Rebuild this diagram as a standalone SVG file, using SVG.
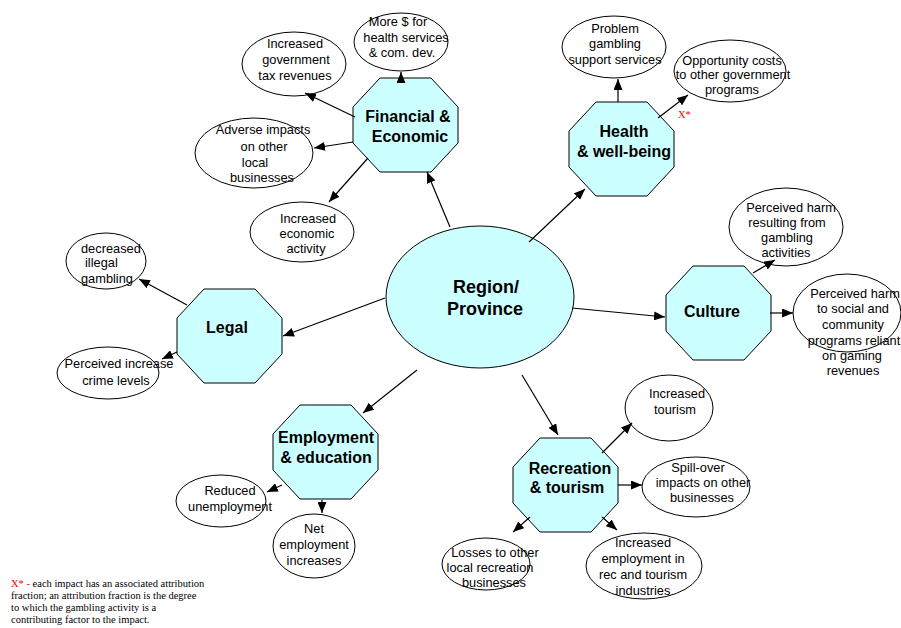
<svg xmlns="http://www.w3.org/2000/svg" width="901" height="628" viewBox="0 0 901 628">
<style>
.bg{fill:#fff}
.oct{fill:#ccffff;stroke:#000;stroke-width:1}
.ell{fill:#fff;stroke:#000;stroke-width:1}
.ctr{fill:#ccffff;stroke:#000;stroke-width:1}
.lbl{font-family:"Liberation Sans",Arial,sans-serif;font-size:16px;font-weight:bold;fill:#000;text-anchor:middle}
.big{font-size:18px}
.t{font-family:"Liberation Sans",Arial,sans-serif;font-size:12.8px;fill:#000;text-anchor:middle}
.ts{text-anchor:start}
.con line{stroke:#000;stroke-width:1.2;marker-end:url(#ah)}
.note{font-family:"Liberation Serif","Times New Roman",serif;font-size:10.5px;fill:#000}
.red{fill:#ff0000}
</style>
<defs>
<marker id="ah" viewBox="0 0 11 9" refX="11" refY="4.5" markerWidth="11" markerHeight="9" markerUnits="userSpaceOnUse" orient="auto">
<path d="M0,0 L11,4.5 L0,9 Z" fill="#000"/>
</marker>
<path id="octo" d="M27,0 H78 L105,29 V65 L78,94 H27 L0,65 V29 Z"/>
</defs>
<rect class="bg" x="0" y="0" width="901" height="628"/>

<g id="region">
<ellipse class="ctr" cx="480" cy="297" rx="94" ry="71"/>
<text class="lbl big" x="486" y="293">Region/</text>
<text class="lbl big" x="485" y="315">Province</text>
</g>

<g id="financial">
<use href="#octo" class="oct" x="353" y="78"/>
<text class="lbl" x="408" y="122">Financial &amp;</text>
<text class="lbl" x="410" y="142">Economic</text>
</g>
<g id="more-money">
<ellipse class="ell" cx="401" cy="42" rx="47" ry="29"/>
<text class="t" x="398" y="26">More $ for</text>
<text class="t" x="406" y="42">health services</text>
<text class="t" x="402" y="57">&amp; com. dev.</text>
</g>
<g id="tax">
<ellipse class="ell" cx="294" cy="64" rx="52" ry="32"/>
<text class="t" x="295" y="48">Increased</text>
<text class="t" x="296" y="64">government</text>
<text class="t" x="295" y="80">tax revenues</text>
</g>
<g id="adverse">
<ellipse class="ell" cx="254" cy="153" rx="59" ry="35"/>
<text class="t" x="263" y="134">Adverse impacts</text>
<text class="t" x="264" y="151">on other</text>
<text class="t" x="255" y="167">local</text>
<text class="t" x="262" y="182">businesses</text>
</g>
<g id="econ-activity">
<ellipse class="ell" cx="302" cy="232" rx="52" ry="30"/>
<text class="t" x="308" y="223">Increased</text>
<text class="t" x="307" y="238">economic</text>
<text class="t" x="306" y="253">activity</text>
</g>

<g id="health">
<use href="#octo" class="oct" x="569" y="102"/>
<text class="lbl" x="624" y="137">Health</text>
<text class="lbl" x="624" y="157">&amp; well-being</text>
</g>
<g id="problem-gambling">
<ellipse class="ell" cx="614" cy="47" rx="52" ry="31"/>
<text class="t" x="615" y="33">Problem</text>
<text class="t" x="615" y="48">gambling</text>
<text class="t" x="615" y="64">support services</text>
</g>
<g id="opportunity">
<ellipse class="ell" cx="730" cy="71" rx="56" ry="31"/>
<text class="t" x="732" y="65">Opportunity costs</text>
<text class="t" x="733" y="79">to other government</text>
<text class="t" x="732" y="94">programs</text>
</g>

<g id="culture">
<use href="#octo" class="oct" x="666" y="266"/>
<text class="lbl" x="712" y="317">Culture</text>
</g>
<g id="harm-gambling">
<ellipse class="ell" cx="786" cy="227" rx="57" ry="39"/>
<text class="t" x="791" y="212">Perceived harm</text>
<text class="t" x="787" y="227">resulting from</text>
<text class="t" x="787" y="242">gambling</text>
<text class="t" x="786" y="257">activities</text>
</g>
<g id="harm-social">
<ellipse class="ell" cx="847" cy="313" rx="54" ry="39"/>
<text class="t" x="855" y="298">Perceived harm</text>
<text class="t" x="853" y="313">to social and</text>
<text class="t" x="853" y="329">community</text>
<text class="t" x="854" y="345">programs reliant</text>
<text class="t" x="852" y="360">on gaming</text>
<text class="t" x="853" y="375">revenues</text>
</g>

<g id="legal">
<use href="#octo" class="oct" x="177" y="289"/>
<text class="lbl" x="227" y="333">Legal</text>
</g>
<g id="illegal-gambling">
<ellipse class="ell" cx="106" cy="261" rx="40" ry="28"/>
<text class="t ts" x="81" y="253">decreased</text>
<text class="t ts" x="85" y="267">illegal</text>
<text class="t ts" x="81" y="283">gambling</text>
</g>
<g id="crime">
<ellipse class="ell" cx="108" cy="373" rx="51" ry="26"/>
<text class="t" x="119" y="368">Perceived increase</text>
<text class="t" x="116" y="385">crime levels</text>
</g>

<g id="employment">
<use href="#octo" class="oct" x="273" y="405"/>
<text class="lbl" x="326" y="443">Employment</text>
<text class="lbl" x="326" y="463">&amp; education</text>
</g>
<g id="unemployment">
<ellipse class="ell" cx="221" cy="501" rx="45" ry="26"/>
<text class="t" x="230" y="495">Reduced</text>
<text class="t" x="230" y="511">unemployment</text>
</g>
<g id="net-employment">
<ellipse class="ell" cx="314" cy="546" rx="41" ry="32"/>
<text class="t" x="314" y="533">Net</text>
<text class="t" x="314" y="549">employment</text>
<text class="t" x="314" y="565">increases</text>
</g>

<g id="recreation">
<use href="#octo" class="oct" x="513" y="438"/>
<text class="lbl" x="570" y="474">Recreation</text>
<text class="lbl" x="567" y="493">&amp; tourism</text>
</g>
<g id="tourism">
<ellipse class="ell" cx="669" cy="408" rx="44" ry="33"/>
<text class="t" x="677" y="398">Increased</text>
<text class="t" x="675" y="414">tourism</text>
</g>
<g id="spillover">
<ellipse class="ell" cx="696" cy="487" rx="54" ry="30"/>
<text class="t" x="698" y="472">Spill-over</text>
<text class="t" x="703" y="487">impacts on other</text>
<text class="t" x="702" y="502">businesses</text>
</g>
<g id="losses">
<ellipse class="ell" cx="486" cy="564" rx="44" ry="26"/>
<text class="t" x="495" y="557">Losses to other</text>
<text class="t" x="490" y="572">local recreation</text>
<text class="t" x="494" y="587">businesses</text>
</g>
<g id="rec-employment">
<ellipse class="ell" cx="644" cy="566" rx="58" ry="33"/>
<text class="t" x="643" y="547">Increased</text>
<text class="t" x="643" y="563">employment in</text>
<text class="t" x="643" y="579">rec and tourism</text>
<text class="t" x="643" y="595">industries</text>
</g>

<g id="connectors" class="con">
<line x1="450" y1="227" x2="427" y2="172"/>
<line x1="529" y1="242" x2="585" y2="189"/>
<line x1="572" y1="308" x2="665" y2="317"/>
<line x1="522" y1="375" x2="558" y2="435"/>
<line x1="417" y1="370" x2="363" y2="413"/>
<line x1="385" y1="298" x2="283" y2="336"/>
<line x1="401" y1="82" x2="401" y2="72"/>
<line x1="355" y1="117" x2="305" y2="93"/>
<line x1="353" y1="142" x2="314" y2="148"/>
<line x1="368" y1="158" x2="329" y2="202"/>
<line x1="618" y1="102" x2="618" y2="79"/>
<line x1="658" y1="118" x2="688" y2="95"/>
<line x1="753" y1="273" x2="775" y2="260"/>
<line x1="770" y1="313" x2="793" y2="313"/>
<line x1="187" y1="305" x2="139" y2="279"/>
<line x1="177" y1="352" x2="162" y2="359"/>
<line x1="282" y1="485" x2="267" y2="492"/>
<line x1="322" y1="500" x2="322" y2="513"/>
<line x1="602" y1="453" x2="632" y2="423"/>
<line x1="618" y1="485" x2="642" y2="485"/>
<line x1="530" y1="517" x2="513" y2="532"/>
<line x1="602" y1="517" x2="617" y2="530"/>
</g>

<text class="note red" x="678" y="118">X*</text>

<g id="footnote">
<text class="note" x="11" y="587"><tspan class="red">X* -</tspan> each impact has an associated attribution</text>
<text class="note" x="11" y="599">fraction; an attribution fraction is the degree</text>
<text class="note" x="11" y="611">to which the gambling activity is a</text>
<text class="note" x="11" y="623">contributing factor to the impact.</text>
</g>
</svg>
